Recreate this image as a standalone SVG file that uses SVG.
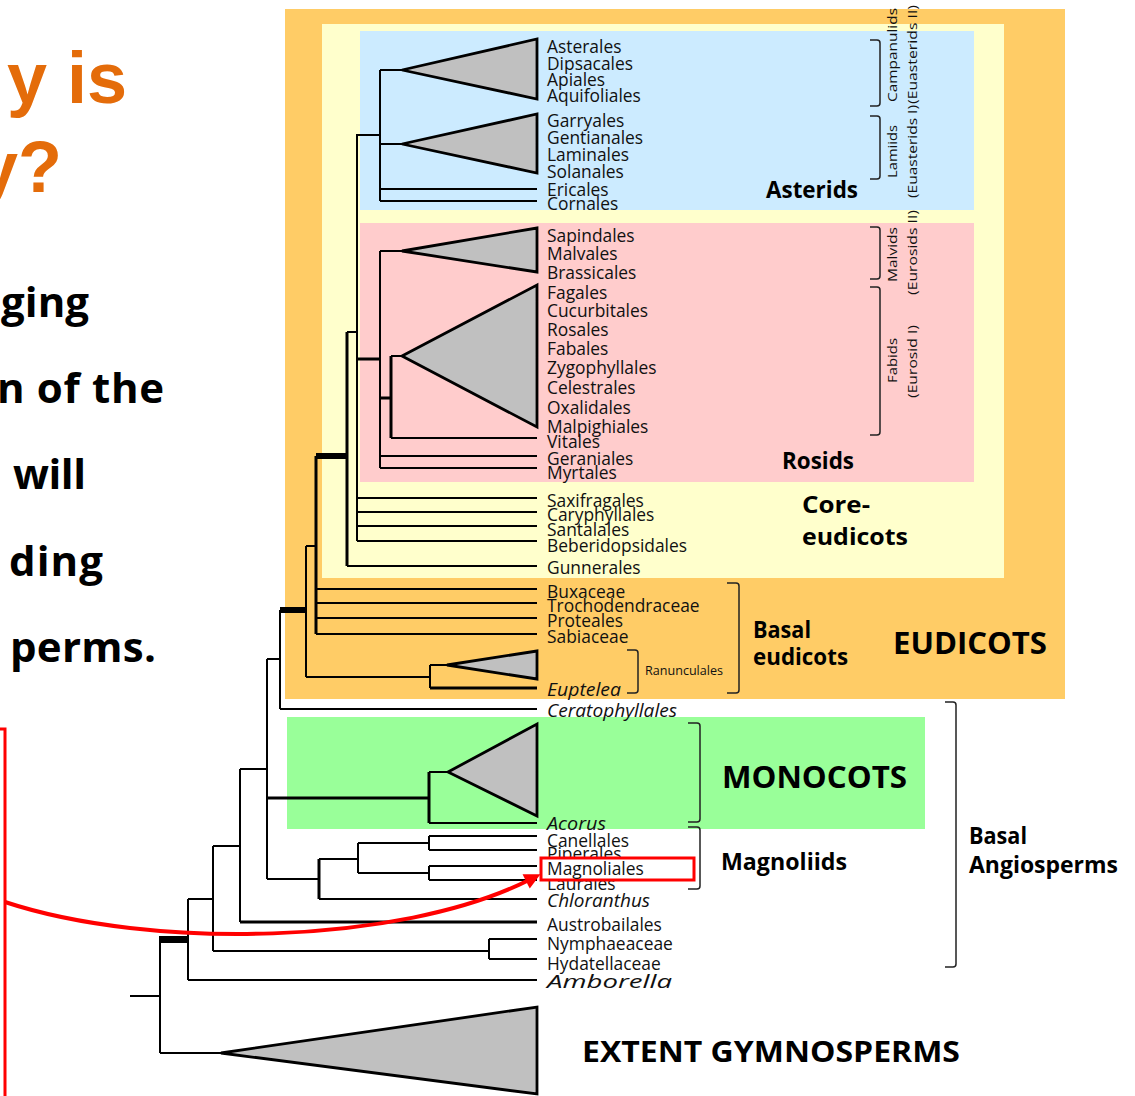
<svg xmlns="http://www.w3.org/2000/svg" width="1135" height="1096" viewBox="0 0 1135 1096">
<style>
.lbl{font-family:"Open Sans","Liberation Sans",sans-serif;font-size:17.4px;fill:#111}
.it{font-style:italic}
.b{font-family:"Open Sans","Liberation Sans",sans-serif;font-weight:bold;fill:#000}
.rot{font-family:"Open Sans","Liberation Sans",sans-serif;font-size:13.5px;fill:#111}
.br{fill:none;stroke:#222;stroke-width:1.5}
.ln{fill:none;stroke:#000;stroke-width:2}
.tk{fill:none;stroke:#000;stroke-width:3}
.xt{fill:none;stroke:#000;stroke-width:6}
.tri{fill:#C0C0C0;stroke:#000;stroke-width:2.8;stroke-linejoin:miter}
.slide{font-family:"Open Sans","Liberation Sans",sans-serif;font-weight:bold;font-size:42px;fill:#000}
.title{font-family:"Liberation Sans",Arial,sans-serif;font-weight:bold;font-size:72px;fill:#E46C0A}
</style>
<defs>
<marker id="arrow" viewBox="0 0 10 10" refX="2" refY="5" markerWidth="18" markerHeight="16" markerUnits="userSpaceOnUse" orient="auto">
<path d="M0,0 L10,5 L0,10 z" fill="#FF0000"/>
</marker>
</defs>
<rect width="1135" height="1096" fill="#fff"/>

<g id="slide-text">
<text class="title" x="127" y="103" text-anchor="end">y is</text>
<text class="title" x="62" y="192" text-anchor="end">y?</text>
<text class="slide" x="1" y="317" textLength="88">ging</text>
<text class="slide" x="-3" y="403" textLength="167">n of the</text>
<text class="slide" x="13" y="489" textLength="73">will</text>
<text class="slide" x="9" y="576" textLength="94">ding</text>
<text class="slide" x="10" y="662" textLength="146">perms.</text>
</g>

<g id="backgrounds">
<rect id="bg-eudicots" x="285" y="9" width="780" height="690" fill="#FFCC66"/>
<rect id="bg-core" x="322" y="24" width="682" height="554" fill="#FFFFCC"/>
<rect id="bg-asterids" x="360" y="31" width="614" height="179" fill="#CCEBFF"/>
<rect id="bg-rosids" x="360" y="223" width="614" height="259" fill="#FFCCCC"/>
<rect id="bg-monocots" x="287" y="717" width="638" height="112" fill="#99FF99"/>
</g>

<g id="connectors">
<path class="ln" d="M380,70 V201 M380,70 H402 M380,144 H402 M380,189 H537 M380,201 H537 M356,135 H380"/>
<path class="ln" d="M380,251 V468 M380,251 H402 M391,356 H402 M391,438 H537 M380,456 H537 M380,468 H537"/>
<path class="tk" d="M380,398 H391 M391,356 V438 M357,359 H380"/>
<path class="ln" d="M357,135 V541 M357,498 H537 M357,512 H537 M357,526 H537 M357,541 H537 M347,332 H357 M347,566 H537"/>
<path class="tk" d="M347,332 V566"/>
<path class="xt" d="M316,456 H347"/>
<path class="tk" d="M316,456 V634"/>
<path class="ln" d="M316,589 H537 M316,603 H537 M316,618 H537 M316,634 H537 M306,546 H316 M306,546 V677 M306,677 H430 M430,665 V688 M430,665 H447"/>
<path class="tk" d="M430,688 H537"/>
<path class="xt" d="M280,610 H306"/>
<path class="ln" d="M280,610 V709 M280,709 H537 M267,659 H280 M267,659 V879 M429,772 H448 M429,823 H537"/>
<path class="tk" d="M267,798 H429 M429,772 V823"/>
<path class="ln" d="M267,879 H319 M319,899 H537 M319,859 H358 M358,843 V873 M358,843 H429 M358,873 H429 M429,836 V850 M429,836 H537 M429,850 H537 M429,866 V880 M429,866 H537 M429,880 H537"/>
<path class="tk" d="M319,859 V899"/>
<path class="ln" d="M240,769 H267 M240,769 V922"/>
<path class="tk" d="M240,922 H537"/>
<path class="ln" d="M213,846 H240 M213,846 V951 M213,951 H489 M489,939 V959 M489,939 H537 M489,959 H537 M188,899 H213 M188,899 V980 M188,980 H537 M160,936 V1053 M160,1053 H221 M130,996 H160"/>
<rect x="160" y="936" width="28" height="7" fill="#000"/>
</g>

<g id="clade-triangles">
<polygon class="tri" points="402,70 537,39 537,99"/>
<polygon class="tri" points="402,144 537,114 537,173"/>
<polygon class="tri" points="402,251 537,228 537,272"/>
<polygon class="tri" points="402,356 537,285 537,427"/>
<polygon class="tri" points="447,665 537,651 537,679"/>
<polygon class="tri" points="448,772 537,724 537,816"/>
<polygon class="tri" points="221,1053 537,1007 537,1094"/>
</g>

<g id="brackets">
<path class="br" d="M870,40 H877 Q880,40 880,43 V103 Q880,106 877,106 H870"/>
<path class="br" d="M870,116 H877 Q880,116 880,119 V176 Q880,179 877,179 H870"/>
<path class="br" d="M870,227 H877 Q880,227 880,230 V276 Q880,279 877,279 H870"/>
<path class="br" d="M870,287 H877 Q880,287 880,290 V432 Q880,435 877,435 H870"/>
<path class="br" d="M727,583 H736 Q739,583 739,586 V690 Q739,693 736,693 H727"/>
<path class="br" d="M627,650 H635 Q638,650 638,653 V690 Q638,693 635,693 H627"/>
<path class="br" d="M688,723 H697 Q700,723 700,726 V819 Q700,822 697,822 H688"/>
<path class="br" d="M688,827 H697 Q700,827 700,830 V886 Q700,889 697,889 H688"/>
<path class="br" d="M945,702 H953 Q956,702 956,705 V964 Q956,967 953,967 H945"/>
</g>

<g id="taxon-labels">
<text class="lbl" x="547" y="53">Asterales</text>
<text class="lbl" x="547" y="69.5">Dipsacales</text>
<text class="lbl" x="547" y="86">Apiales</text>
<text class="lbl" x="547" y="102">Aquifoliales</text>
<text class="lbl" x="547" y="127">Garryales</text>
<text class="lbl" x="547" y="143.5">Gentianales</text>
<text class="lbl" x="547" y="160.5">Laminales</text>
<text class="lbl" x="547" y="178">Solanales</text>
<text class="lbl" x="547" y="196">Ericales</text>
<text class="lbl" x="547" y="210">Cornales</text>
<text class="lbl" x="547" y="242">Sapindales</text>
<text class="lbl" x="547" y="260">Malvales</text>
<text class="lbl" x="547" y="278.5">Brassicales</text>
<text class="lbl" x="547" y="298.5">Fagales</text>
<text class="lbl" x="547" y="317">Cucurbitales</text>
<text class="lbl" x="547" y="336">Rosales</text>
<text class="lbl" x="547" y="354.5">Fabales</text>
<text class="lbl" x="547" y="373.5">Zygophyllales</text>
<text class="lbl" x="547" y="393.5">Celestrales</text>
<text class="lbl" x="547" y="413.5">Oxalidales</text>
<text class="lbl" x="547" y="432.5">Malpighiales</text>
<text class="lbl" x="547" y="448">Vitales</text>
<text class="lbl" x="547" y="464.5">Geraniales</text>
<text class="lbl" x="547" y="478.5">Myrtales</text>
<text class="lbl" x="547" y="507">Saxifragales</text>
<text class="lbl" x="547" y="521">Caryphyllales</text>
<text class="lbl" x="547" y="536">Santalales</text>
<text class="lbl" x="547" y="552">Beberidopsidales</text>
<text class="lbl" x="547" y="573.5">Gunnerales</text>
<text class="lbl" x="547" y="597.5">Buxaceae</text>
<text class="lbl" x="547" y="612">Trochodendraceae</text>
<text class="lbl" x="547" y="627">Proteales</text>
<text class="lbl" x="547" y="643">Sabiaceae</text>
<text class="lbl it" x="547" y="696" textLength="74" lengthAdjust="spacingAndGlyphs">Euptelea</text>
<text class="lbl it" x="547" y="717" textLength="130" lengthAdjust="spacingAndGlyphs">Ceratophyllales</text>
<text class="lbl it" x="547" y="829.5" textLength="59" lengthAdjust="spacingAndGlyphs">Acorus</text>
<text class="lbl" x="547" y="847">Canellales</text>
<text class="lbl" x="547" y="860">Piperales</text>
<text class="lbl" x="547" y="889.5">Laurales</text>
<text class="lbl it" x="547" y="907" textLength="103" lengthAdjust="spacingAndGlyphs">Chloranthus</text>
<text class="lbl" x="547" y="931">Austrobailales</text>
<text class="lbl" x="547" y="949.5">Nymphaeaceae</text>
<text class="lbl" x="547" y="969.5">Hydatellaceae</text>
<text class="lbl it" x="547" y="988" font-size="26" textLength="125" lengthAdjust="spacingAndGlyphs">Amborella</text>
</g>

<g id="rotated-labels">
<text class="rot" transform="translate(897,102) rotate(-90)" textLength="94" lengthAdjust="spacingAndGlyphs">Campanulids</text>
<text class="rot" transform="translate(917,104) rotate(-90)" textLength="99" lengthAdjust="spacingAndGlyphs">(Euasterids II)</text>
<text class="rot" transform="translate(897,178) rotate(-90)" textLength="53" lengthAdjust="spacingAndGlyphs">Lamiids</text>
<text class="rot" transform="translate(917,198) rotate(-90)" textLength="93" lengthAdjust="spacingAndGlyphs">(Euasterids I)</text>
<text class="rot" transform="translate(897,282) rotate(-90)" textLength="55" lengthAdjust="spacingAndGlyphs">Malvids</text>
<text class="rot" transform="translate(917,295) rotate(-90)" textLength="85" lengthAdjust="spacingAndGlyphs">(Eurosids II)</text>
<text class="rot" transform="translate(897,383) rotate(-90)" textLength="45" lengthAdjust="spacingAndGlyphs">Fabids</text>
<text class="rot" transform="translate(917,398) rotate(-90)" textLength="73" lengthAdjust="spacingAndGlyphs">(Eurosid I)</text>
<text class="rot" x="645" y="675" font-size="13" textLength="78" lengthAdjust="spacingAndGlyphs">Ranunculales</text>
</g>

<g id="group-labels">
<text class="b" x="766" y="198" font-size="23" textLength="92" lengthAdjust="spacingAndGlyphs">Asterids</text>
<text class="b" x="782" y="469" font-size="23" textLength="72" lengthAdjust="spacingAndGlyphs">Rosids</text>
<text class="b" x="802" y="513" font-size="23" textLength="68" lengthAdjust="spacingAndGlyphs">Core-</text>
<text class="b" x="802" y="545" font-size="23" textLength="106" lengthAdjust="spacingAndGlyphs">eudicots</text>
<text class="b" x="753" y="638" font-size="23" textLength="58" lengthAdjust="spacingAndGlyphs">Basal</text>
<text class="b" x="753" y="665" font-size="23" textLength="95" lengthAdjust="spacingAndGlyphs">eudicots</text>
<text class="b" x="893" y="654" font-size="31" textLength="154" lengthAdjust="spacingAndGlyphs">EUDICOTS</text>
<text class="b" x="722" y="788" font-size="31" textLength="185" lengthAdjust="spacingAndGlyphs">MONOCOTS</text>
<text class="b" x="721" y="870" font-size="23" textLength="126" lengthAdjust="spacingAndGlyphs">Magnoliids</text>
<text class="b" x="969" y="844" font-size="23" textLength="58" lengthAdjust="spacingAndGlyphs">Basal</text>
<text class="b" x="969" y="873" font-size="23" textLength="149" lengthAdjust="spacingAndGlyphs">Angiosperms</text>
<text class="b" x="582" y="1062" font-size="28" textLength="378" lengthAdjust="spacingAndGlyphs">EXTENT GYMNOSPERMS</text>
</g>

<g id="annotation">
<path d="M0,729 H5 V1096" fill="none" stroke="#FF0000" stroke-width="3"/>
<rect x="541" y="858" width="153" height="22" fill="#fff" stroke="#FF0000" stroke-width="3"/>
<text class="lbl" x="547" y="875">Magnoliales</text>
<path d="M5,902 C150,950 400,945 529,880" fill="none" stroke="#FF0000" stroke-width="4" marker-end="url(#arrow)"/>
</g>
</svg>
